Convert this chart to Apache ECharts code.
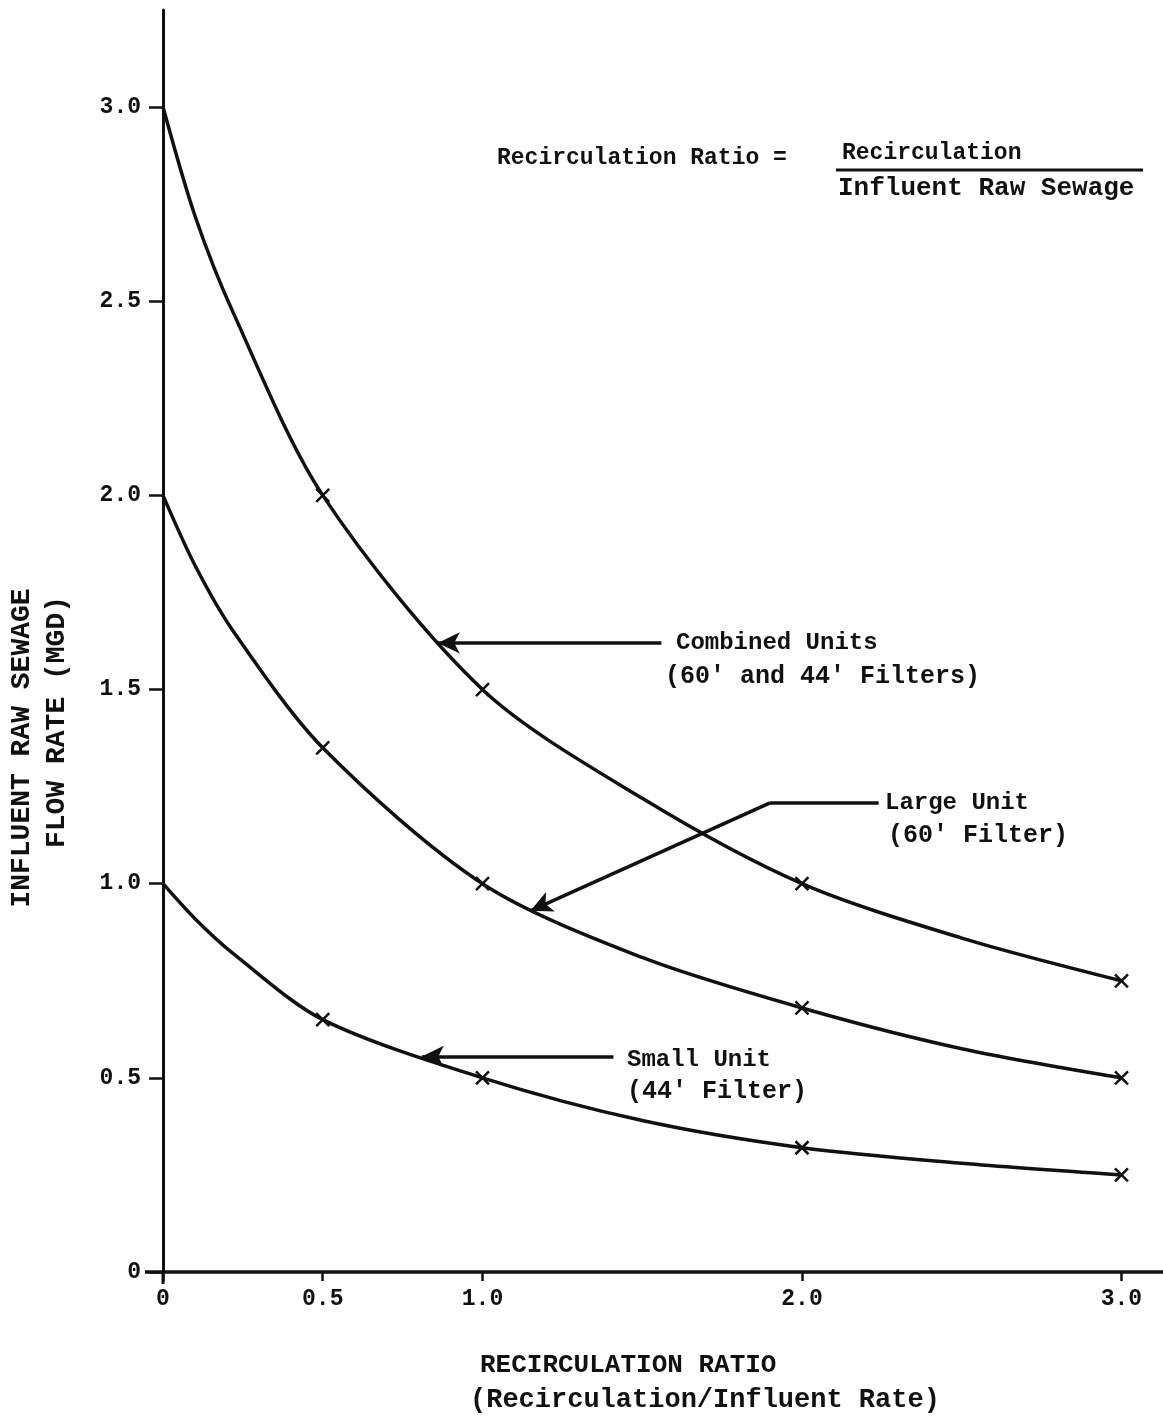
<!DOCTYPE html>
<html><head><meta charset="utf-8">
<script src="https://cdn.jsdelivr.net/npm/echarts@6/dist/echarts.min.js"></script>
<style>html,body{margin:0;padding:0;background:#fff}#c{width:1163px;height:1422px}</style>
</head><body><div id="c"></div>
<script>
// Recirculation ratio (x) values
const ratio = [0, 0.1, 0.22, 0.5, 1.0, 1.5, 2.0, 2.5, 3.0];
// which points carry an "x" mark on the original
const marked = [false, false, false, true, true, false, true, false, true];
// Influent raw sewage flow rate (MGD)
const combinedUnits = [3.0, 2.72, 2.47, 2.0, 1.5, 1.22, 1.0, 0.86, 0.75];
const largeUnit = [2.0, 1.82, 1.65, 1.35, 1.0, 0.81, 0.68, 0.575, 0.5];
const smallUnit = [1.0, 0.91, 0.82, 0.65, 0.5, 0.39, 0.32, 0.28, 0.25];
// tick values and labels
const xTicks = [0, 0.5, 1.0, 2.0, 3.0];
const xTickLabels = ['0', '0.5', '1.0', '2.0', '3.0'];
const yTicks = [0, 0.5, 1.0, 1.5, 2.0, 2.5, 3.0];
const yTickLabels = ['0', '0.5', '1.0', '1.5', '2.0', '2.5', '3.0'];

const INK = '#111';
const FONT = '"Liberation Mono", "DejaVu Sans Mono", monospace';
const XMARK = 'path://M0,0L10,10M10,0L0,10';

function seriesData(vals) {
  return ratio.map((r, i) => ({ value: [r, vals[i]], symbol: marked[i] ? XMARK : 'none' }));
}
function lineSeries(name, vals, markLineData) {
  return {
    name, type: 'line', smooth: 0.3, data: seriesData(vals),
    symbolSize: 13, showAllSymbol: true,
    lineStyle: { color: INK, width: 3.5 },
    itemStyle: { color: INK, borderColor: INK, borderWidth: 2.5 },
    markLine: {
      silent: true, animation: false,
      symbol: ['none', 'none'], symbolSize: [16, 22],
      label: { show: false },
      lineStyle: { color: INK, width: 3.5, type: 'solid' },
      data: markLineData
    }
  };
}

const chart = echarts.init(document.getElementById('c'), null, { renderer: 'canvas' });
const txt = (text, x, y, size, align, rotation) => ({
  type: 'text', x, y, rotation: rotation || 0,
  style: {
    text, fill: INK, fontFamily: FONT, fontWeight: 'bold', fontSize: size,
    align: align || 'left', verticalAlign: 'middle',
    textAlign: align || 'left', textVerticalAlign: 'middle'
  }
});

chart.setOption({
  backgroundColor: '#fff',
  animation: false,
  grid: { left: 163, right: 0, top: 10, bottom: 150 },
  xAxis: {
    type: 'value', min: 0, max: 3.13,
    splitLine: { show: false },
    axisLine: { show: true, lineStyle: { color: INK, width: 3.5 } },
    axisTick: { show: true, customValues: xTicks, length: 9, lineStyle: { color: INK, width: 2.5 } },
    axisLabel: {
      customValues: xTicks, margin: 16, color: INK,
      fontFamily: FONT, fontWeight: 'bold', fontSize: 23,
      formatter: v => xTickLabels[xTicks.indexOf(v)] ?? ''
    }
  },
  yAxis: {
    type: 'value', min: 0, max: 3.25,
    splitLine: { show: false },
    axisLine: { show: true, lineStyle: { color: INK, width: 3 } },
    axisTick: { show: true, customValues: yTicks, length: 14, lineStyle: { color: INK, width: 2.5 } },
    axisLabel: {
      customValues: yTicks, margin: 22, color: INK,
      fontFamily: FONT, fontWeight: 'bold', fontSize: 23,
      formatter: v => yTickLabels[yTicks.indexOf(v)] ?? ''
    }
  },
  series: [
    lineSeries('Combined Units', combinedUnits, [
      [{ coord: [1.56, 1.62] }, { coord: [0.86, 1.62], symbol: 'arrow' }]
    ]),
    lineSeries('Large Unit', largeUnit, [
      [{ coord: [2.24, 1.208] }, { coord: [1.90, 1.208] }],
      [{ coord: [1.90, 1.208] }, { coord: [1.15, 0.93], symbol: 'arrow' }]
    ]),
    lineSeries('Small Unit', smallUnit, [
      [{ coord: [1.41, 0.555] }, { coord: [0.81, 0.555], symbol: 'arrow' }]
    ])
  ],
  graphic: [
    txt('Combined Units', 676, 643, 24),
    txt("(60' and 44' Filters)", 665, 677, 25),
    txt('Large Unit', 885, 803, 24),
    txt("(60' Filter)", 888, 836, 25),
    txt('Small Unit', 627, 1060, 24),
    txt("(44' Filter)", 627, 1092, 25),
    txt('Recirculation Ratio =', 497, 158, 23),
    txt('Recirculation', 842, 153, 23),
    { type: 'line', shape: { x1: 836, y1: 170, x2: 1143, y2: 170 }, style: { stroke: INK, lineWidth: 3 } },
    txt('Influent Raw Sewage', 838, 188, 26),
    txt('RECIRCULATION RATIO', 480, 1365, 26),
    txt('(Recirculation/Influent Rate)', 470, 1400, 27),
    txt('INFLUENT RAW SEWAGE', 22, 748, 28, 'center', Math.PI / 2),
    txt('FLOW RATE (MGD)', 57, 722, 28, 'center', Math.PI / 2),
    { type: 'line', shape: { x1: 145, y1: 1272, x2: 163, y2: 1272 }, style: { stroke: INK, lineWidth: 3.5 } },
    { type: 'line', shape: { x1: 163, y1: 1272, x2: 163, y2: 1284 }, style: { stroke: INK, lineWidth: 3 } }
  ]
});
</script>
</body></html>
